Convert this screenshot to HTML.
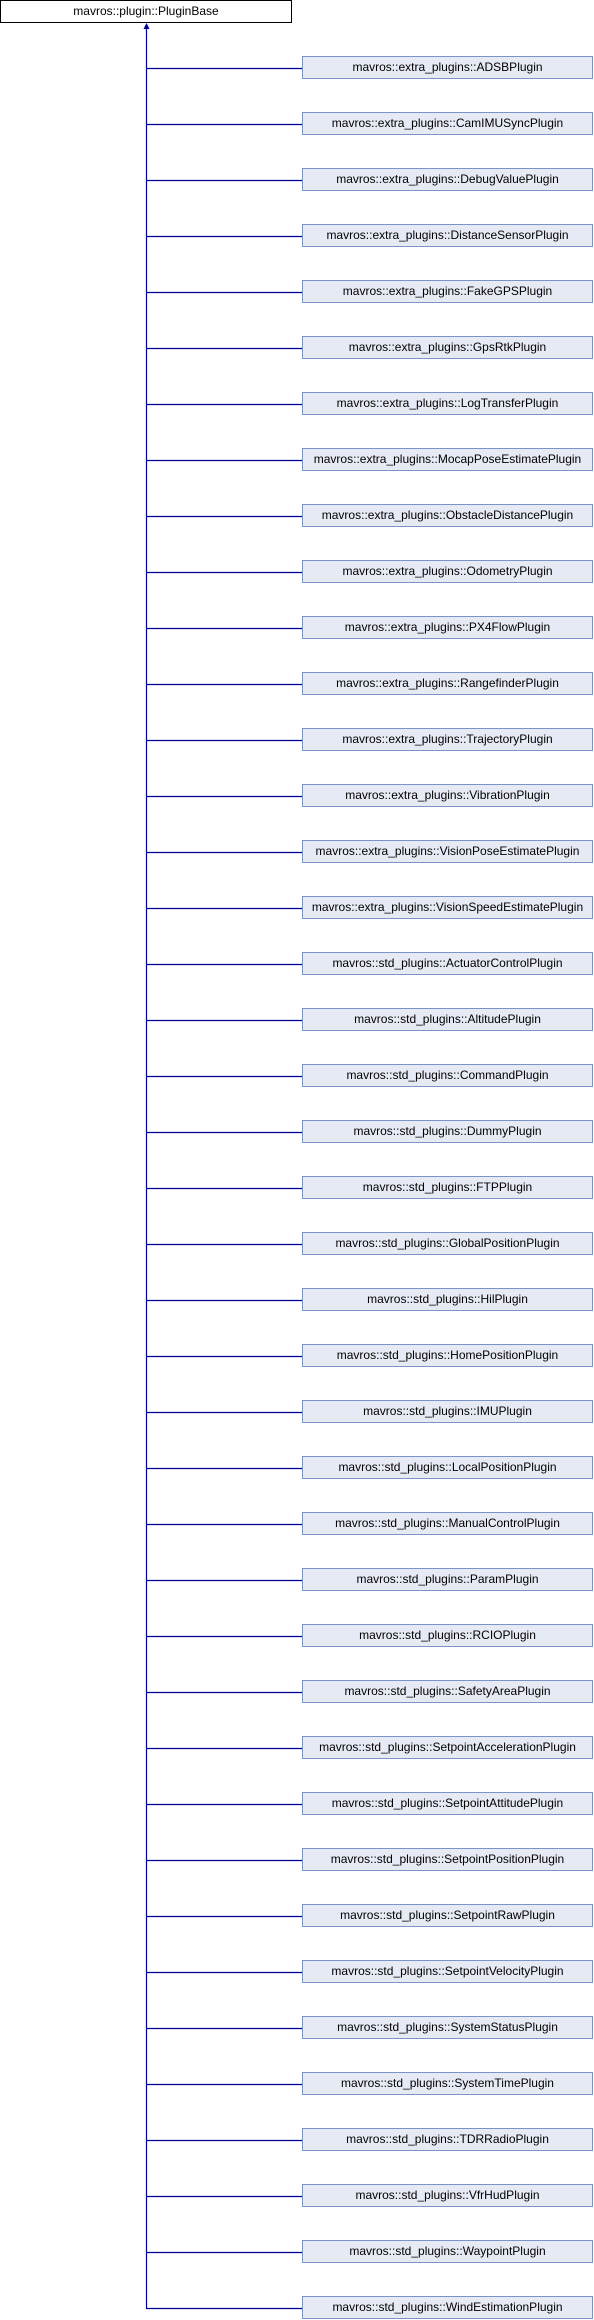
<!DOCTYPE html>
<html><head><meta charset="utf-8"><style>
body{margin:0;width:594px;height:2320px;position:relative;background:#fff;font-family:"Liberation Sans",sans-serif;font-size:12px;overflow:hidden}
.b{position:absolute;left:302px;width:289px;height:21px;background:#e6eaf4;border:1px solid #7b93c6;text-align:center;line-height:21px;color:#000}
.t{position:absolute;left:0;top:0;width:290px;height:21px;border:1px solid #000;background:#fff;text-align:center;line-height:21px}
</style></head><body>
<div class="t">mavros::plugin::PluginBase</div>
<svg width="594" height="2320" style="position:absolute;left:0;top:0" id="s"></svg>
<div id="c"></div>
<script>
var n=["mavros::extra_plugins::ADSBPlugin","mavros::extra_plugins::CamIMUSyncPlugin","mavros::extra_plugins::DebugValuePlugin","mavros::extra_plugins::DistanceSensorPlugin","mavros::extra_plugins::FakeGPSPlugin","mavros::extra_plugins::GpsRtkPlugin","mavros::extra_plugins::LogTransferPlugin","mavros::extra_plugins::MocapPoseEstimatePlugin","mavros::extra_plugins::ObstacleDistancePlugin","mavros::extra_plugins::OdometryPlugin","mavros::extra_plugins::PX4FlowPlugin","mavros::extra_plugins::RangefinderPlugin","mavros::extra_plugins::TrajectoryPlugin","mavros::extra_plugins::VibrationPlugin","mavros::extra_plugins::VisionPoseEstimatePlugin","mavros::extra_plugins::VisionSpeedEstimatePlugin","mavros::std_plugins::ActuatorControlPlugin","mavros::std_plugins::AltitudePlugin","mavros::std_plugins::CommandPlugin","mavros::std_plugins::DummyPlugin","mavros::std_plugins::FTPPlugin","mavros::std_plugins::GlobalPositionPlugin","mavros::std_plugins::HilPlugin","mavros::std_plugins::HomePositionPlugin","mavros::std_plugins::IMUPlugin","mavros::std_plugins::LocalPositionPlugin","mavros::std_plugins::ManualControlPlugin","mavros::std_plugins::ParamPlugin","mavros::std_plugins::RCIOPlugin","mavros::std_plugins::SafetyAreaPlugin","mavros::std_plugins::SetpointAccelerationPlugin","mavros::std_plugins::SetpointAttitudePlugin","mavros::std_plugins::SetpointPositionPlugin","mavros::std_plugins::SetpointRawPlugin","mavros::std_plugins::SetpointVelocityPlugin","mavros::std_plugins::SystemStatusPlugin","mavros::std_plugins::SystemTimePlugin","mavros::std_plugins::TDRRadioPlugin","mavros::std_plugins::VfrHudPlugin","mavros::std_plugins::WaypointPlugin","mavros::std_plugins::WindEstimationPlugin"];
var h='',s='<line x1="146.5" y1="27" x2="146.5" y2="'+(68.5+40*56)+'" stroke="#000099" stroke-width="1.2"/><polygon points="146.5,23 143.5,29 149.5,29" fill="#000099"/>';
n.forEach(function(t,i){var y=56+i*56;h+='<div class="b" style="top:'+y+'px">'+t+'</div>';s+='<line x1="146" y1="'+(y+12.5)+'" x2="302" y2="'+(y+12.5)+'" stroke="#000099" stroke-width="1.2"/>';});
document.getElementById('c').innerHTML=h;document.getElementById('s').innerHTML=s;
</script>
</body></html>
